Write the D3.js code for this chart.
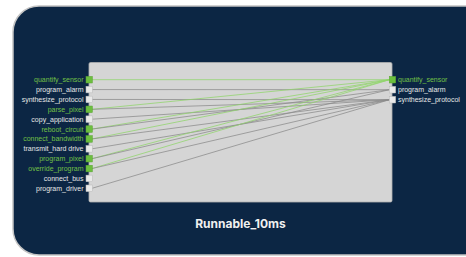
<!DOCTYPE html>
<html><head><meta charset="utf-8">
<script src="https://cdn.jsdelivr.net/npm/d3@7"></script>
<style>html,body{margin:0;padding:0;background:#fff;overflow:hidden}</style>
</head><body>
<svg id="c" width="466" height="257"></svg>
<script>
const leftPorts = ["quantify_sensor","program_alarm","synthesize_protocol","parse_pixel","copy_application","reboot_circuit","connect_bandwidth","transmit_hard drive","program_pixel","override_program","connect_bus","program_driver"];
const leftActive = [true,false,false,true,false,true,true,false,true,true,false,false];
const rightPorts = ["quantify_sensor","program_alarm","synthesize_protocol"];
const rightActive = [true,false,false];
const links = [
  ["quantify_sensor","quantify_sensor"],
  ["program_alarm","program_alarm"],
  ["synthesize_protocol","synthesize_protocol"],
  ["parse_pixel","quantify_sensor"],["parse_pixel","synthesize_protocol"],
  ["copy_application","synthesize_protocol"],
  ["reboot_circuit","quantify_sensor"],["reboot_circuit","program_alarm"],
  ["connect_bandwidth","quantify_sensor"],["connect_bandwidth","synthesize_protocol"],
  ["transmit_hard drive","synthesize_protocol"],
  ["program_pixel","quantify_sensor"],["program_pixel","program_alarm"],
  ["override_program","quantify_sensor"],["override_program","synthesize_protocol"],
  ["program_driver","synthesize_protocol"]
];
const title = "Runnable_10ms";

const svg = d3.select("#c");
svg.append("rect").attr("x",13).attr("y",6).attr("width",520).attr("height",249).attr("rx",26)
  .attr("fill","#0c2644").attr("stroke","#c4c4c4").attr("stroke-width",1.5);

const box = {x:89, y:62.5, w:303, h:139.5};
svg.append("rect").attr("x",box.x).attr("y",box.y).attr("width",box.w).attr("height",box.h).attr("rx",1.5)
  .attr("fill","#d5d5d5").attr("stroke","#b0b0b0").attr("stroke-width",0.8);

const yL = d3.scalePoint().domain(leftPorts).range([79.7,188.3]);
const yR = d3.scalePoint().domain(rightPorts).range([79.7,99.7]);
const green = "#6cbf3e", greenText = "#72c046";

const gLinks = svg.append("g");
links.forEach(([s,t])=>{
  const act = rightActive[rightPorts.indexOf(t)];
  gLinks.append("line").attr("x1",92).attr("y1",yL(s)).attr("x2",389.5).attr("y2",yR(t))
    .attr("stroke",act?"#8fd46a":"#8a8a8a").attr("stroke-width",0.8).attr("stroke-opacity",0.95);
});

leftPorts.forEach((p,i)=>{
  const a = leftActive[i];
  svg.append("rect").attr("x",86).attr("y",yL(p)-3.3).attr("width",6.4).attr("height",6.6)
    .attr("fill",a?green:"#e9e9e9").attr("stroke",a?"#5aa332":"#b8b8b8").attr("stroke-width",0.5);
  svg.append("text").attr("x",83.5).attr("y",yL(p)).attr("dy","0.35em").attr("text-anchor","end")
    .attr("font-family","Liberation Sans, Arial, sans-serif").attr("font-size",7)
    .attr("fill",a?greenText:"#e6e6e6").text(p);
});
rightPorts.forEach((p,i)=>{
  const a = rightActive[i];
  svg.append("rect").attr("x",389.3).attr("y",yR(p)-3.3).attr("width",6.4).attr("height",6.6)
    .attr("fill",a?green:"#e9e9e9").attr("stroke",a?"#5aa332":"#b8b8b8").attr("stroke-width",0.5);
  svg.append("text").attr("x",398).attr("y",yR(p)).attr("dy","0.35em").attr("text-anchor","start")
    .attr("font-family","Liberation Sans, Arial, sans-serif").attr("font-size",7)
    .attr("fill",a?greenText:"#e6e6e6").text(p);
});

svg.append("text").attr("x",240.5).attr("y",228).attr("text-anchor","middle")
  .attr("font-family","Inter, Lato, sans-serif").attr("font-weight","bold").attr("font-size",12)
  .attr("fill","#f0f0f0").text(title);
</script>
</body></html>
